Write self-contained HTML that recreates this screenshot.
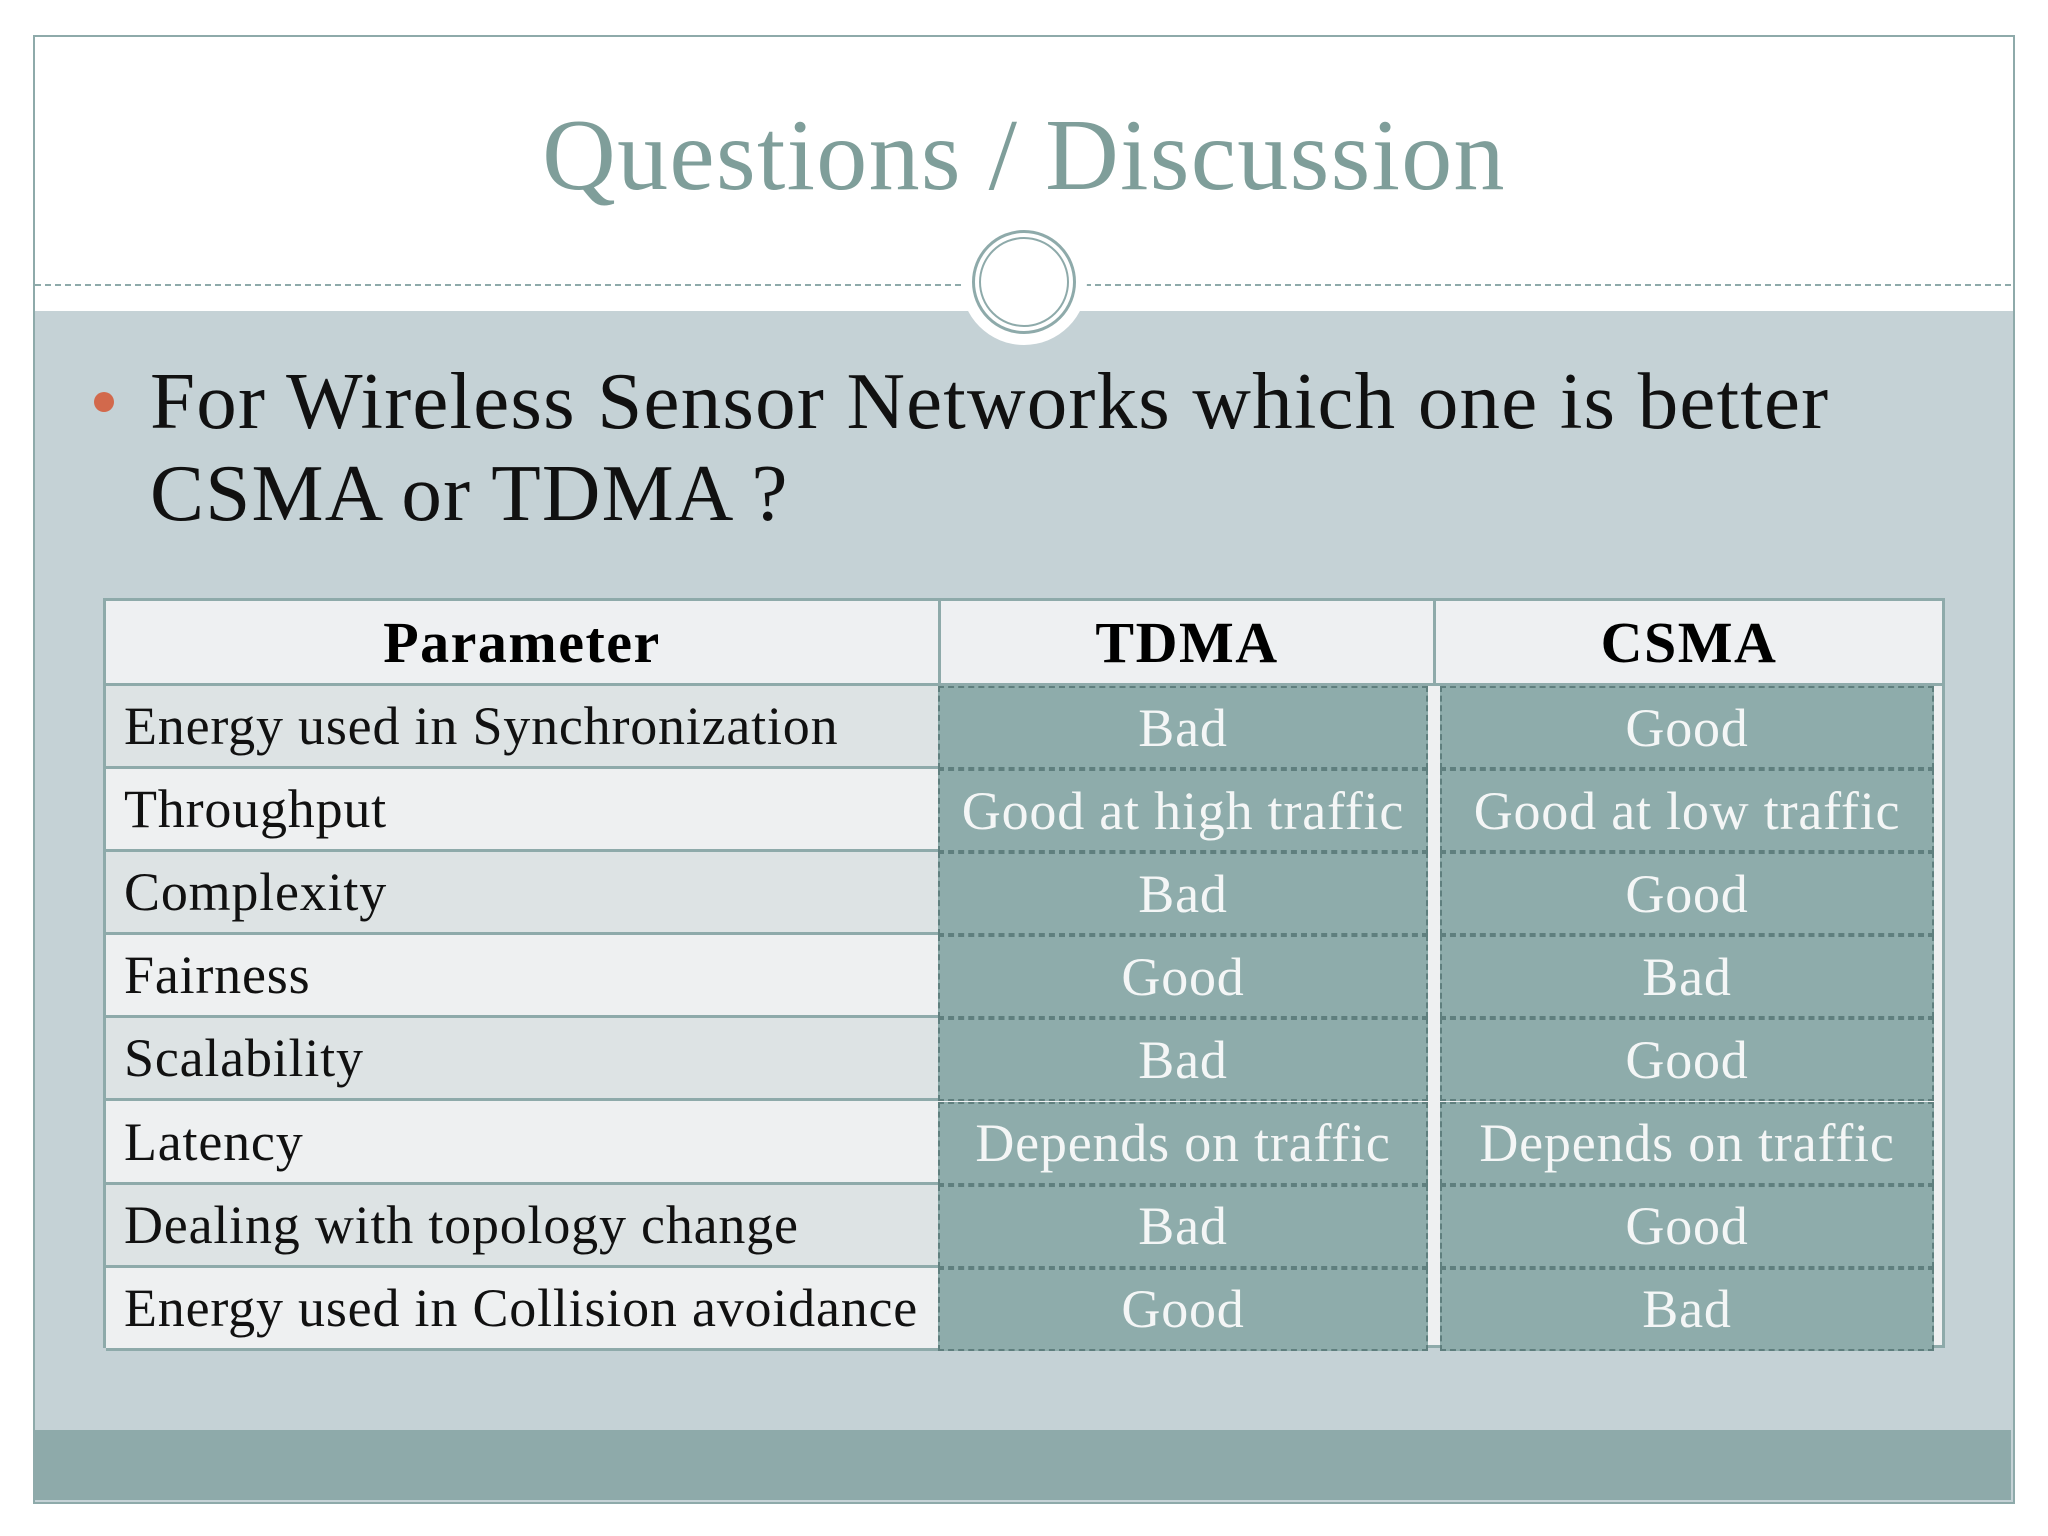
<!DOCTYPE html>
<html><head><meta charset="utf-8"><style>
body{margin:0;width:2048px;height:1536px;background:#fff;position:relative;overflow:hidden;font-family:"Liberation Serif",serif}
.a{position:absolute}
.cell{position:absolute;box-sizing:border-box;display:flex;align-items:center;font-size:54px;letter-spacing:0.8px}
.p{background:#dde3e4;border-bottom:3px solid #8eaaaa;padding-left:18px;color:#111}
.p.e{background:#eef0f1}
.t{background:#8eacab;border:2px dashed #5f7f7e;justify-content:center;color:#f4f6f6}
.h{background:#eef0f2;justify-content:center;font-weight:bold;color:#000;font-size:58px;letter-spacing:1.5px}
</style></head><body>
<div class="a" style="left:33px;top:35px;width:1978px;height:1465px;border:2px solid #8eaaaa;background:#c5d2d6"></div>
<div class="a" style="left:35px;top:37px;width:1978px;height:274px;background:#fff"></div>
<div class="a" style="left:35px;top:284px;width:1976px;border-top:2px dashed #8eaaaa"></div>
<div class="a" style="left:35px;top:1430px;width:1976px;height:70px;background:#8eaaaa"></div>
<div class="a" style="left:961px;top:219px;width:126px;height:126px;border-radius:50%;background:#fff"></div>
<div class="a" style="left:972px;top:230px;width:104px;height:104px;border-radius:50%;border:3px solid #8eaaaa;box-sizing:border-box"></div>
<div class="a" style="left:979px;top:237px;width:90px;height:90px;border-radius:50%;border:2px solid #8eaaaa;box-sizing:border-box"></div>
<div class="a" style="left:0;width:2048px;top:96px;text-align:center;font-size:102px;letter-spacing:1.3px;color:#7f9e9a;line-height:120px">Questions / Discussion</div>
<div class="a" style="left:94px;top:392px;width:20px;height:20px;border-radius:50%;background:#d2694c"></div>
<div class="a" style="left:150px;top:355px;font-size:81px;letter-spacing:1.2px;line-height:92px;color:#111">For Wireless Sensor Networks which one is better<br>CSMA or TDMA ?</div>
<div class="a" style="left:103px;top:598px;width:1842px;height:750px;border:3px solid #8eaaaa;box-sizing:border-box;background:#eef0f1">
<div class="cell h" style="left:0;top:0;width:835px;height:85px;border-right:3px solid #8eaaaa;border-bottom:3px solid #8eaaaa">Parameter</div>
<div class="cell h" style="left:835px;top:0;width:495px;height:85px;border-right:3px solid #8eaaaa;border-bottom:3px solid #8eaaaa">TDMA</div>
<div class="cell h" style="left:1330px;top:0;width:506px;height:85px;border-bottom:3px solid #8eaaaa">CSMA</div>
<div id="rows"></div>
</div>
<script>
const params=["Energy used in Synchronization","Throughput","Complexity","Fairness","Scalability","Latency","Dealing with topology change","Energy used in Collision avoidance"];
const tdma=["Bad","Good at high traffic","Bad","Good","Bad","Depends on traffic","Bad","Good"];
const csma=["Good","Good at low traffic","Good","Bad","Good","Depends on traffic","Good","Bad"];
const rows=document.getElementById('rows');
const rh=83.1;
params.forEach((p,i)=>{
  const top=85+i*rh;
  const a=document.createElement('div');
  a.className='cell p'+(i%2?' e':'');
  
  
  a.style.cssText=`left:0;top:${top}px;width:835px;height:${rh}px`;
  a.textContent=p;rows.appendChild(a);
  const b=document.createElement('div');
  b.className='cell t';
  
  
  b.style.cssText=`left:832px;top:${top}px;width:490px;height:${rh}px`;
  b.textContent=tdma[i];rows.appendChild(b);
  const c=document.createElement('div');
  c.className='cell t';
  
  
  c.style.cssText=`left:1334px;top:${top}px;width:494px;height:${rh}px`;
  c.textContent=csma[i];rows.appendChild(c);
});
</script>
</body></html>
